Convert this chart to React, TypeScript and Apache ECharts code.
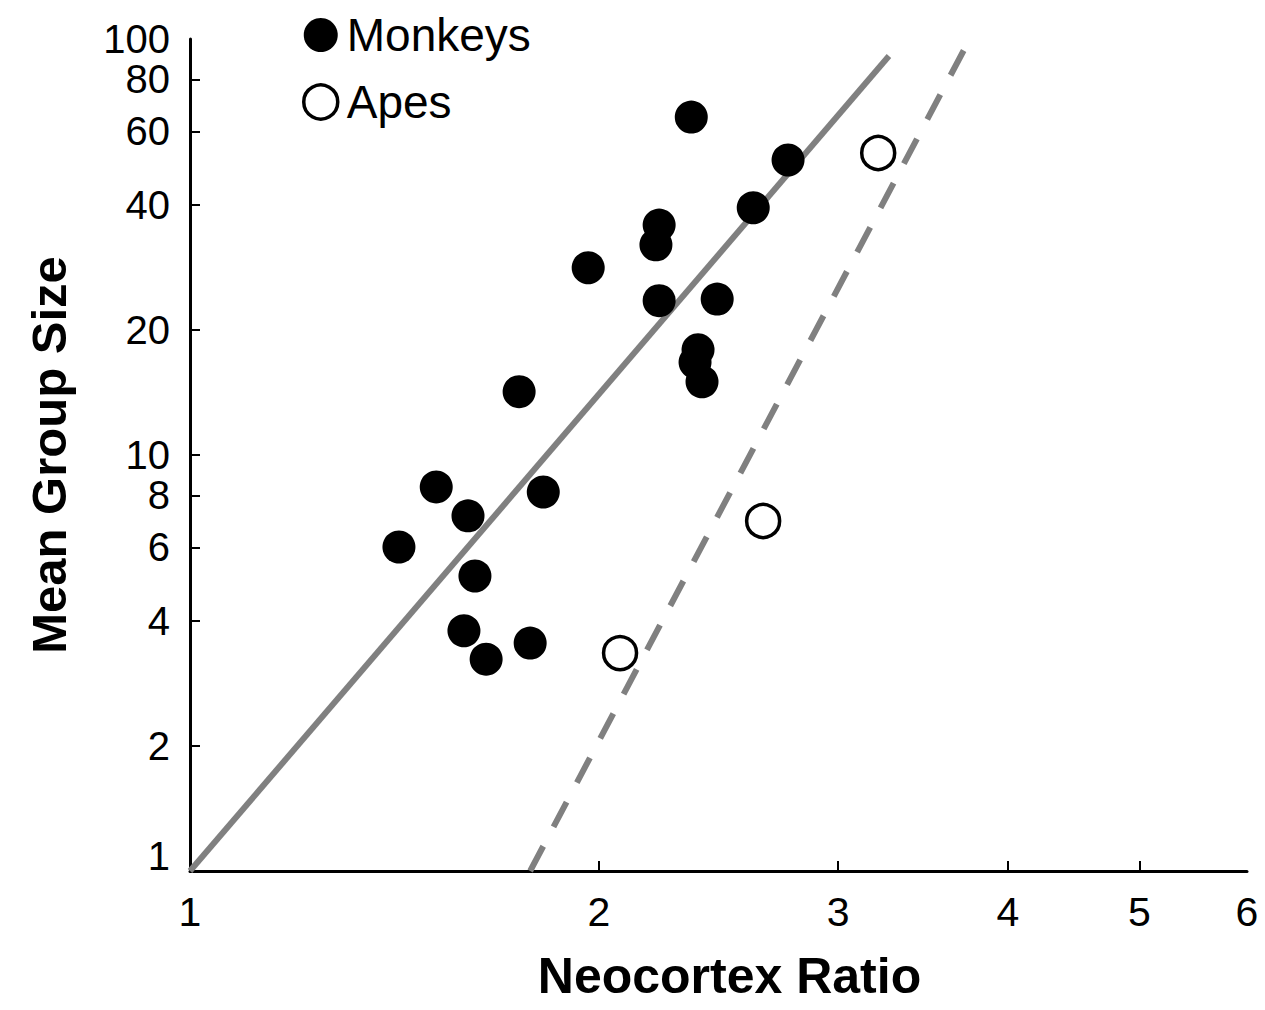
import React, { useEffect, useRef } from "react";
import * as echarts from "echarts";

// Neocortex ratio (x) and mean group size (y)
const monkeysX = [1.425, 1.518, 1.602, 1.621, 1.591, 1.652, 1.78, 1.82, 1.747, 1.964, 2.215, 2.203, 2.215, 2.444, 2.339, 2.598, 2.756, 2.366, 2.354, 2.382];
const monkeysY = [6.01, 8.38, 7.14, 5.12, 3.78, 3.23, 3.53, 8.15, 14.2, 28.2, 35.7, 32.0, 23.5, 23.7, 64.9, 39.3, 51.2, 17.9, 16.7, 15.0];
const apesX = [2.073, 2.642, 3.211];
const apesY = [3.34, 6.94, 53.2];

// Regression lines (end points)
const monkeyLineX = [1, 3.27];
const monkeyLineY = [1, 91];
const apeLineX = [1.78, 3.75];
const apeLineY = [1, 100];

const xLabels = [1, 2, 3, 4, 5, 6];
const xTicks = [2, 3, 4, 5];
const yLabels = [1, 2, 4, 6, 8, 10, 20, 40, 60, 80, 100];
const yTicks = [2, 4, 6, 8, 10, 20, 40, 60, 80];

const FONT = "Liberation Sans";

export default function App() {
  const ref = useRef<HTMLDivElement>(null);
  useEffect(() => {
    if (!ref.current) return;
    const chart = echarts.init(ref.current, null, { renderer: "svg" });
    const pairs = (xs: number[], ys: number[]) => xs.map((x, i) => [x, ys[i]]);
    chart.setOption({
      animation: false,
      backgroundColor: "#ffffff",
      textStyle: { fontFamily: FONT, color: "#000" },
      grid: { left: 190, right: 18, top: 39, bottom: 139, containLabel: false },
      legend: {
        orient: "vertical",
        left: 297,
        top: 7,
        itemWidth: 34,
        itemHeight: 34,
        itemGap: 21,
        icon: "circle",
        textStyle: { fontSize: 46, fontFamily: FONT, color: "#000", padding: [0, 0, 0, 4] },
        data: [
          { name: "Monkeys" },
          { name: "Apes", itemStyle: { color: "#fff", borderColor: "#000", borderWidth: 3.5 } },
        ],
      },
      xAxis: {
        type: "log",
        logBase: 10,
        min: 1,
        max: 6,
        name: "Neocortex Ratio",
        nameLocation: "middle",
        nameGap: 80,
        nameTextStyle: { fontSize: 50, fontWeight: "bold", fontFamily: FONT, color: "#000", padding: [0, 0, 0, 22] },
        axisLine: { show: true, lineStyle: { color: "#000", width: 3 } },
        axisTick: { show: true, inside: true, length: 10, customValues: xTicks, lineStyle: { color: "#000", width: 2 } },
        axisLabel: {
          fontSize: 41,
          color: "#000",
          fontFamily: FONT,
          margin: 20,
          showMinLabel: true,
          showMaxLabel: true,
          customValues: xLabels,
          formatter: (v: number) => String(Math.round(v)),
        },
        splitLine: { show: false },
        minorTick: { show: false },
      },
      yAxis: {
        type: "log",
        logBase: 10,
        min: 1,
        max: 100,
        name: "Mean Group Size",
        nameLocation: "middle",
        nameRotate: 90,
        nameGap: 117,
        nameTextStyle: { fontSize: 49, fontWeight: "bold", fontFamily: FONT, color: "#000" },
        axisLine: { show: true, lineStyle: { color: "#000", width: 3 } },
        axisTick: { show: true, inside: true, length: 10, customValues: yTicks, lineStyle: { color: "#000", width: 2 } },
        axisLabel: {
          fontSize: 40,
          color: "#000",
          fontFamily: FONT,
          margin: 20,
          showMinLabel: true,
          showMaxLabel: true,
          hideOverlap: false,
          customValues: yLabels,
          formatter: (v: number) => {
            const r = Math.round(v);
            return r === 1 ? "{one|1}" : String(r);
          },
          rich: { one: { fontSize: 40, fontFamily: FONT, color: "#000", padding: [0, 0, 30, 0] } },
        },
        splitLine: { show: false },
        minorTick: { show: false },
      },
      series: [
        {
          name: "MonkeyFit",
          type: "line",
          data: pairs(monkeyLineX, monkeyLineY),
          symbol: "none",
          silent: true,
          z: 1,
          lineStyle: { color: "#808080", width: 6, type: "solid" },
        },
        {
          name: "ApeFit",
          type: "line",
          data: pairs(apeLineX, apeLineY),
          symbol: "none",
          silent: true,
          z: 1,
          lineStyle: { color: "#808080", width: 6, type: [28, 22] },
        },
        {
          name: "Monkeys",
          type: "scatter",
          data: pairs(monkeysX, monkeysY),
          symbol: "circle",
          symbolSize: 33,
          z: 3,
          itemStyle: { color: "#000", opacity: 1 },
        },
        {
          name: "Apes",
          type: "scatter",
          data: pairs(apesX, apesY),
          symbol: "circle",
          symbolSize: 33,
          z: 3,
          itemStyle: { color: "#fff", borderColor: "#000", borderWidth: 3.5, opacity: 1 },
        },
      ],
    });
    return () => chart.dispose();
  }, []);
  return <div ref={ref} style={{ position: "absolute", left: 0, top: 0, width: 1265, height: 1010 }} />;
}
